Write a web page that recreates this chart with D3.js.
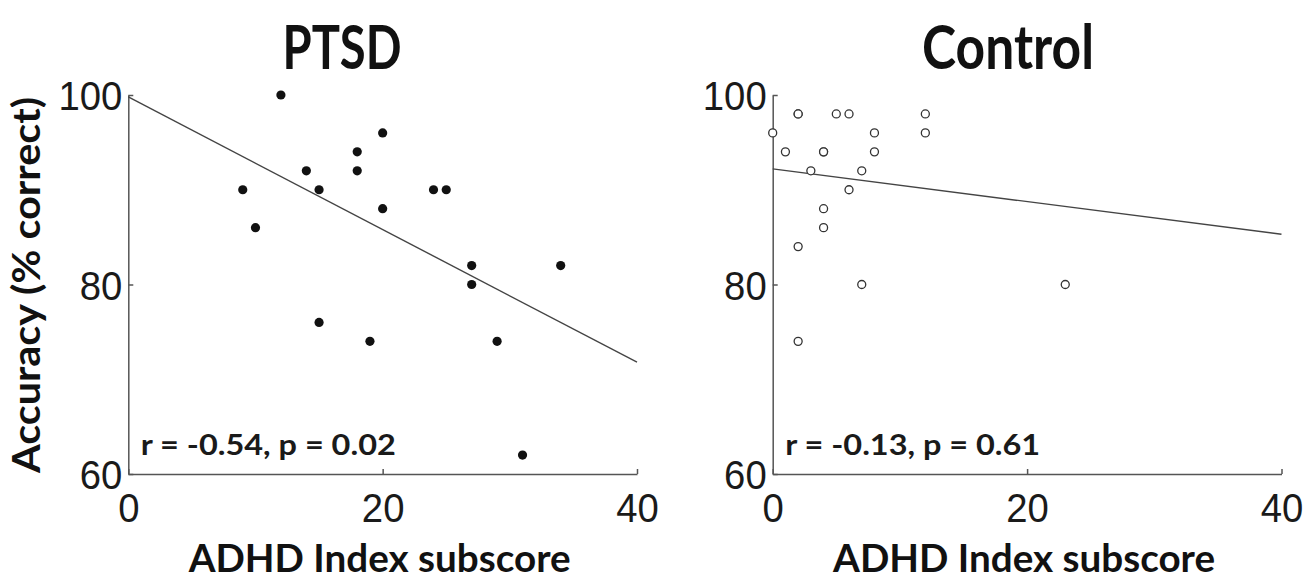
<!DOCTYPE html>
<html>
<head>
<meta charset="utf-8">
<script src="https://cdn.jsdelivr.net/npm/d3@7"></script>
<style>
  html, body { margin: 0; padding: 0; background: #fff; }
  svg { display: block; }
</style>
</head>
<body>
<svg id="chart" width="1304" height="579"></svg>
<script>

var xTicks = [0, 20, 40];
var yTicks = [60, 80, 100];

// PTSD group
var ptsdX = [9, 10, 12, 14, 15, 15, 18, 18, 19, 20, 20, 24, 25, 27, 27, 29, 31, 34];
var ptsdY = [90, 86, 100, 92, 90, 76, 94, 92, 74, 96, 88, 90, 90, 82, 80, 74, 62, 82];

// Control group
var controlX = [0, 1, 2, 2, 2, 2, 3, 4, 4, 4, 4, 5, 6, 6, 7, 7, 8, 8, 12, 12, 23];
var controlY = [96, 94, 98, 84, 74, 98, 92, 94, 88, 86, 94, 98, 98, 90, 92, 80, 96, 94, 98, 96, 80];

// regression lines, value at x = 0 and x = 40
var fitX = [0, 40];
var ptsdFit = [99.8, 71.8];
var controlFit = [92.2, 85.3];

var panels = [
    { title: 'PTSD', xs: ptsdX, ys: ptsdY, fit: ptsdFit, stat: 'r = -0.54, p = 0.02', filled: true,
      left: 128.3, right: 637, titleX: 342, titleW: 119 },
    { title: 'Control', xs: controlX, ys: controlY, fit: controlFit, stat: 'r = -0.13, p = 0.61', filled: false,
      left: 772.7, right: 1281.5, titleX: 1008, titleW: 172 }
];

var svg = d3.select('#chart');
var plotTop = 95, plotBottom = 474;
var boldFont = 'Lato, "Open Sans", sans-serif';
var tickFont = '"Liberation Sans", Arial, sans-serif';

var y = d3.scaleLinear().domain([60, 100]).range([plotBottom, plotTop]);

panels.forEach(function(p, idx) {

    var x = d3.scaleLinear().domain([0, 40]).range([p.left, p.right]);
    var g = svg.append('g').attr('class', 'panel-' + idx);

    var xAxis = g.append('g')
        .attr('transform', 'translate(0,' + plotBottom + ')')
        .call(d3.axisBottom(x).tickValues(xTicks).tickSizeInner(-5).tickSizeOuter(0).tickPadding(19));

    var yAxis = g.append('g')
        .attr('transform', 'translate(' + p.left + ',0)')
        .call(d3.axisLeft(y).tickValues(yTicks).tickSizeInner(-5).tickSizeOuter(0).tickPadding(6));

    [xAxis, yAxis].forEach(function(a) {
        a.select('.domain').attr('stroke', '#555').attr('stroke-width', 1.5);
        a.selectAll('.tick line').attr('stroke', '#555').attr('stroke-width', 1.5);
        a.selectAll('.tick text')
            .attr('fill', '#1a1a1a')
            .style('font-family', tickFont)
            .style('font-size', '41px')
            .attr('textLength', function(d) { return String(d).length * 21.3; })
            .attr('lengthAdjust', 'spacingAndGlyphs');
    });
    yAxis.selectAll('.tick text').attr('dy', '0.36em');

    // fitted line
    g.append('line')
        .attr('x1', x(fitX[0])).attr('y1', y(p.fit[0]))
        .attr('x2', x(fitX[1])).attr('y2', y(p.fit[1]))
        .attr('stroke', '#444')
        .attr('stroke-width', 1.4);

    g.selectAll('.pt')
        .data(p.xs.map(function(v, i) { return [v, p.ys[i]]; }))
        .enter()
        .append('circle')
        .attr('class', 'pt')
        .attr('cx', function(d) { return x(d[0]); })
        .attr('cy', function(d) { return y(d[1]); })
        .attr('r', p.filled ? 4.6 : 4)
        .attr('fill', p.filled ? '#111' : '#fff')
        .attr('stroke', p.filled ? 'none' : '#333')
        .attr('stroke-width', 1.3);

    g.append('text')
        .attr('x', p.left + 12.5)
        .attr('y', 455)
        .attr('fill', '#1a1a1a')
        .style('font-family', boldFont)
        .style('font-weight', 'bold')
        .style('font-size', '29px')
        .attr('textLength', 255)
        .attr('lengthAdjust', 'spacingAndGlyphs')
        .text(p.stat);

    g.append('text')
        .attr('x', p.titleX)
        .attr('y', 69)
        .attr('text-anchor', 'middle')
        .attr('fill', '#111')
        .style('font-family', boldFont)
        .style('font-weight', 'bold')
        .style('font-size', '61px')
        .attr('textLength', p.titleW)
        .attr('lengthAdjust', 'spacingAndGlyphs')
        .text(p.title);

    g.append('text')
        .attr('x', (p.left + p.right) / 2 - 3)
        .attr('y', 572)
        .attr('text-anchor', 'middle')
        .attr('fill', '#111')
        .style('font-family', boldFont)
        .style('font-weight', 'bold')
        .style('font-size', '39px')
        .attr('textLength', 382)
        .attr('lengthAdjust', 'spacingAndGlyphs')
        .text('ADHD Index subscore');

});

svg.append('text')
    .attr('transform', 'translate(40,285) rotate(-90)')
    .attr('text-anchor', 'middle')
    .attr('fill', '#111')
    .style('font-family', boldFont)
    .style('font-weight', 'bold')
    .style('font-size', '39px')
    .attr('textLength', 376)
    .attr('lengthAdjust', 'spacingAndGlyphs')
    .text('Accuracy (% correct)');

</script>
</body>
</html>
